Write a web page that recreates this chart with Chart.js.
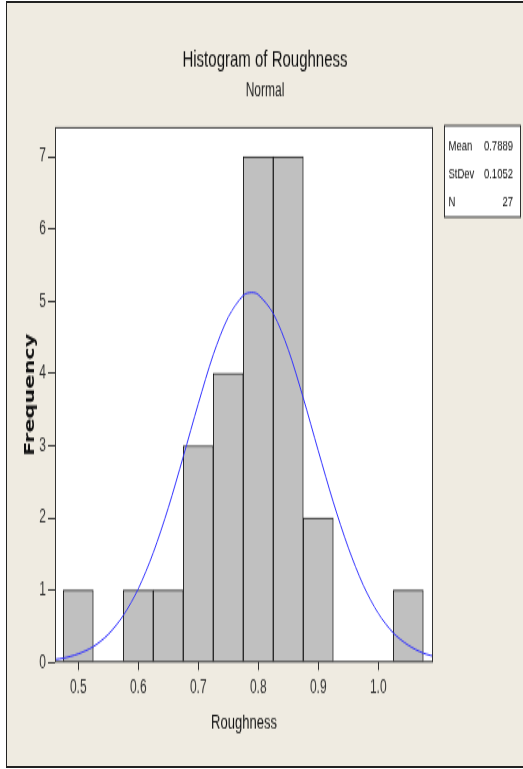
<!DOCTYPE html>
<html>
<head>
<meta charset="utf-8">
<script src="https://cdn.jsdelivr.net/npm/chart.js@4.4.0/dist/chart.umd.min.js"></script>
<style>
html, body { margin: 0; padding: 0; background: #fff; width: 523px; height: 769px; overflow: hidden; }
#frame { position: absolute; left: 6px; top: 1px; width: 600px; height: 763px; background: #efebe1;
         border-left: 1px solid #222; border-top: 2px solid #222; border-bottom: 2px solid #222; }
/* the original picture is stretched vertically, so the chart is drawn flatter and scaled up */
#wrap { position: absolute; left: 0; top: 0; width: 523px; height: 496px; transform: scaleY(1.5504); transform-origin: 0 0; }
</style>
</head>
<body>
<div id="frame"></div>
<div id="wrap"><canvas id="myChart" width="523" height="496"></canvas></div>
<script>
// histogram bins (mid points) and counts
var binMids = [0.50, 0.55, 0.60, 0.65, 0.70, 0.75, 0.80, 0.85, 0.90, 0.95, 1.00, 1.05];
var counts = [1, 0, 1, 1, 3, 4, 7, 7, 2, 0, 0, 1];

// fitted normal curve
var curveX = [0.450, 0.475, 0.500, 0.525, 0.550, 0.575, 0.600, 0.625, 0.650, 0.675, 0.700, 0.725, 0.750,
              0.775, 0.789, 0.800, 0.825, 0.850, 0.875, 0.900, 0.925, 0.950, 0.975, 1.000, 1.025, 1.050, 1.075, 1.100];
var curveY = [0.03, 0.06, 0.12, 0.22, 0.39, 0.65, 1.02, 1.52, 2.14, 2.85, 3.58, 4.26, 4.78,
              5.08, 5.12, 5.09, 4.83, 4.33, 3.66, 2.93, 2.22, 1.59, 1.07, 0.68, 0.41, 0.24, 0.13, 0.07];

var xTicks = [0.5, 0.6, 0.7, 0.8, 0.9, 1.0];
var statLabels = ['Mean', 'StDev', 'N'];
var statValues = ['0.7889', '0.1052', '27'];

Chart.defaults.font.family = "'Liberation Sans', Arial, sans-serif";
Chart.defaults.color = '#222';

var plotBox = {
    id: 'plotBox',
    beforeDraw: function (chart) {
        var a = chart.chartArea, c = chart.ctx;
        c.save();
        c.fillStyle = '#fff';
        c.fillRect(a.left, a.top, a.right - a.left, a.bottom - a.top);
        c.restore();
    },
    afterDraw: function (chart) {
        var a = chart.chartArea, c = chart.ctx;
        c.save();
        c.strokeStyle = '#333';
        c.lineWidth = 1;
        c.strokeRect(a.left + 0.5, a.top + 0.5, a.right - a.left - 1, a.bottom - a.top - 1);

        // statistics box
        var bx = 444.5, by = 81, bw = 76, bh = 59;
        c.fillStyle = '#fff';
        c.fillRect(bx, by, bw, bh);
        c.strokeRect(bx, by, bw, bh);
        c.fillStyle = '#111';
        c.font = "9.5px 'Liberation Sans Narrow', 'Liberation Sans', Arial, sans-serif";
        c.textBaseline = 'middle';
        var rows = [94.5, 112.5, 130.5];
        for (var i = 0; i < statLabels.length; i++) {
            c.textAlign = 'left';
            c.fillText(statLabels[i], 448.5, rows[i]);
            c.textAlign = 'right';
            c.fillText(statValues[i], 513, rows[i]);
        }
        c.restore();
    }
};

var ctx = document.getElementById('myChart').getContext('2d');

var histChart = new Chart(ctx, {
    type: 'bar',
    data: {
        datasets: [{
            type: 'line',
            data: curveX.map(function (x, i) { return { x: x, y: curveY[i] }; }),
            borderColor: '#3030ff',
            borderWidth: 1,
            pointRadius: 0,
            tension: 0.3,
            fill: false,
            order: 0
        }, {
            type: 'bar',
            data: binMids.map(function (m, i) { return { x: m, y: counts[i] }; }),
            backgroundColor: '#c0c0c0',
            borderColor: '#222',
            borderWidth: 1,
            barPercentage: 1,
            categoryPercentage: 1,
            order: 1
        }]
    },
    plugins: [plotBox],
    options: {
        responsive: false,
        animation: false,
        devicePixelRatio: 1,
        layout: { padding: { left: 7, right: 0, top: 0, bottom: 0 } },
        plugins: {
            legend: { display: false },
            tooltip: { enabled: false },
            title: {
                display: true,
                text: 'Histogram of Roughness',
                color: '#111',
                font: { size: 15, weight: 'normal' },
                padding: { top: 29.5, bottom: 0 }
            },
            subtitle: {
                display: true,
                text: 'Normal',
                color: '#222',
                font: { size: 12 },
                padding: { top: 3.9, bottom: 16.1 }
            }
        },
        scales: {
            x: {
                type: 'linear',
                min: 0.4612,
                max: 1.0912,
                offset: false,
                afterFit: function (s) { s.height = 496 - 427.3; },
                afterBuildTicks: function (s) { s.ticks = xTicks.map(function (v) { return { value: v }; }); },
                grid: { offset: false, drawOnChartArea: false, tickLength: 5, tickColor: '#333' },
                border: { display: false },
                ticks: {
                    padding: 4.5,
                    font: { size: 12 },
                    color: '#333',
                    callback: function (v) { return v.toFixed(1); }
                },
                title: {
                    display: true,
                    text: 'Roughness',
                    color: '#111',
                    font: { size: 13 },
                    padding: { top: 0, bottom: 21.9 }
                }
            },
            y: {
                type: 'linear',
                min: 0,
                max: 7.41,
                afterFit: function (s) { s.width = 48; },
                grid: { drawOnChartArea: false, tickLength: 7, tickColor: '#333' },
                border: { display: false },
                ticks: { stepSize: 1, includeBounds: false, padding: 2, font: { size: 12 }, color: '#333' },
                title: {
                    display: true,
                    text: 'Frequency',
                    color: '#111',
                    font: { family: "'DejaVu Sans', sans-serif", size: 13.5, weight: 'bold' },
                    padding: { top: 14.9, bottom: 0 }
                }
            },
            side: {
                type: 'linear',
                position: 'right',
                afterFit: function (s) { s.width = 90; },
                grid: { display: false },
                border: { display: false },
                ticks: { display: false }
            }
        }
    }
});
</script>
</body>
</html>
